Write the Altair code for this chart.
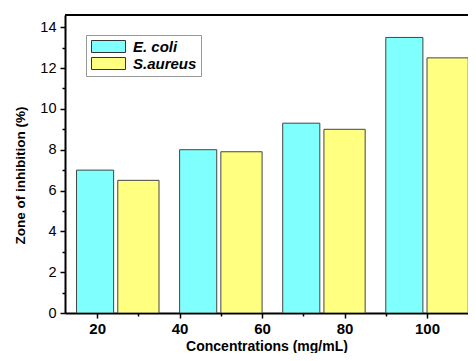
import altair as alt
import pandas as pd

# ---- data ----
species = ["E. coli", "S.aureus"]
group_pos = [25, 50, 75, 100]          # x position of each bar pair (axis units)
ecoli = [7.0, 8.0, 9.3, 13.5]
saureus = [6.5, 7.9, 9.0, 12.5]
x_major = [20, 40, 60, 80, 100]
x_minor = [30, 50, 70, 90]
y_major = [0, 2, 4, 6, 8, 10, 12, 14]
y_minor = [1, 3, 5, 7, 9, 11, 13]
colors = ["#80FFFF", "#FFFF80"]

rows = []
for c, a, b in zip(group_pos, ecoli, saureus):
    rows.append({"species": species[0], "x0": c - 10, "x1": c - 1, "v": a, "base": 0})
    rows.append({"species": species[1], "x0": c, "x1": c + 10, "v": b, "base": 0})
df = pd.DataFrame(rows)

W, H = 403, 298
FONT = "Liberation Sans"

xscale = alt.Scale(domain=[12.2, 109.94], nice=False, zero=False)
yscale = alt.Scale(domain=[0, 14.6], nice=False)

bars = alt.Chart(df).mark_bar(stroke="#444", strokeWidth=1, opacity=1, clip=True).encode(
    x=alt.X("x0:Q", scale=xscale,
            axis=alt.Axis(values=x_major, title="Concentrations (mg/mL)",
                          labelFontWeight="bold", labelFontSize=15, labelFont=FONT,
                          labelPadding=3, tickSize=5, tickWidth=1.5, tickColor="black",
                          domainColor="black", domainWidth=2, grid=False,
                          titleFont=FONT, titleFontSize=14, titleFontWeight="bold",
                          titleY=33, titleBaseline="middle", labelColor="black",
                          titleColor="black")),
    x2="x1:Q",
    y=alt.Y("v:Q", scale=yscale,
            axis=alt.Axis(values=y_major, title="Zone of inhibition (%)",
                          labelFontSize=14.5, labelFont=FONT, labelPadding=4,
                          tickSize=5, tickWidth=1.5, tickColor="black",
                          domainColor="black", domainWidth=2, grid=False,
                          titleFont=FONT, titleFontSize=13.5, titleFontWeight="bold",
                          titleX=-45, titleY=160, titleBaseline="middle",
                          labelColor="black", titleColor="black")),
    y2="base:Q",
    color=alt.Color("species:N", scale=alt.Scale(domain=species, range=colors),
                    legend=alt.Legend(title=None, orient="none", legendX=21, legendY=20,
                                      strokeColor="#999", padding=4,
                                      symbolType="M-1,-1H4.67V1H-1Z", symbolSize=144,
                                      symbolStrokeColor="#333", symbolStrokeWidth=1,
                                      symbolOpacity=1,
                                      labelFont=FONT, labelFontSize=15,
                                      labelFontStyle="italic", labelFontWeight="bold",
                                      labelColor="black", labelOffset=28, rowPadding=0)),
)

minor = alt.Chart(df).mark_point(opacity=0).encode(
    x=alt.X("x0:Q", scale=xscale,
            axis=alt.Axis(values=x_minor, labels=False, title=None, tickSize=3,
                          tickWidth=1.5, tickColor="black", domain=False, grid=False,
                          orient="bottom")),
    y=alt.Y("v:Q", scale=yscale,
            axis=alt.Axis(values=y_minor, labels=False, title=None, tickSize=3,
                          tickWidth=1.5, tickColor="black", domain=False, grid=False,
                          orient="left")),
)

top = alt.Chart(df).mark_rule(color="black", strokeWidth=2).encode(
    y=alt.value(0), x=alt.value(0), x2=alt.value(W)
)

chart = alt.layer(bars, minor, top).resolve_axis(x="independent", y="independent").properties(
    width=W, height=H,
    autosize=alt.AutoSizeParams(type="none"),
    padding={"left": 57, "top": 7, "right": 0, "bottom": 40},
).configure_view(stroke=None).configure(background="white")

chart.save("out.html", embed_options={"renderer": "svg", "actions": False})
